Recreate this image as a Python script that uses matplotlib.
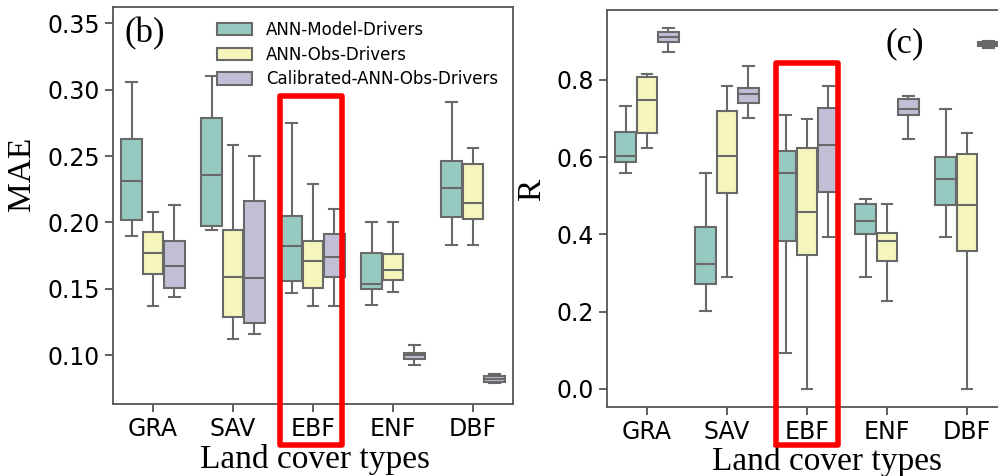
import colorsys
import matplotlib
matplotlib.use('Agg')
import matplotlib.pyplot as plt
import matplotlib.colors as mcolors
from matplotlib.patches import Rectangle, Patch

land_covers = ['GRA', 'SAV', 'EBF', 'ENF', 'DBF']
drivers = ['ANN-Model-Drivers', 'ANN-Obs-Drivers', 'Calibrated-ANN-Obs-Drivers']

# box stats per land cover: (whisker low, q1, median, q3, whisker high)
mae_model = [(0.190, 0.202, 0.231, 0.263, 0.306),
             (0.194, 0.197, 0.236, 0.279, 0.310),
             (0.147, 0.156, 0.182, 0.205, 0.275),
             (0.138, 0.150, 0.154, 0.177, 0.200),
             (0.183, 0.204, 0.226, 0.246, 0.291)]
mae_obs = [(0.137, 0.161, 0.177, 0.193, 0.208),
           (0.112, 0.129, 0.159, 0.194, 0.258),
           (0.137, 0.151, 0.171, 0.186, 0.229),
           (0.148, 0.157, 0.164, 0.176, 0.200),
           (0.183, 0.203, 0.215, 0.244, 0.256)]
mae_cal = [(0.144, 0.151, 0.167, 0.186, 0.213),
           (0.116, 0.124, 0.158, 0.216, 0.250),
           (0.137, 0.159, 0.174, 0.191, 0.210),
           (0.093, 0.097, 0.100, 0.102, 0.108),
           (0.079, 0.080, 0.082, 0.084, 0.086)]

r_model = [(0.560, 0.588, 0.603, 0.665, 0.733),
           (0.202, 0.272, 0.324, 0.418, 0.560),
           (0.094, 0.384, 0.560, 0.616, 0.709),
           (0.291, 0.401, 0.436, 0.479, 0.492),
           (0.394, 0.475, 0.544, 0.601, 0.724)]
r_obs = [(0.623, 0.662, 0.748, 0.808, 0.815),
         (0.291, 0.508, 0.603, 0.720, 0.785),
         (0.000, 0.347, 0.457, 0.625, 0.699),
         (0.228, 0.330, 0.384, 0.403, 0.478),
         (0.000, 0.357, 0.475, 0.608, 0.662)]
r_cal = [(0.871, 0.899, 0.910, 0.925, 0.934),
         (0.702, 0.740, 0.763, 0.780, 0.837),
         (0.394, 0.509, 0.632, 0.727, 0.785),
         (0.647, 0.708, 0.724, 0.751, 0.759),
         (0.883, 0.887, 0.892, 0.897, 0.900)]

base_colors = ['#8dd3c7', '#ffffb3', '#bebada']


def desaturate(color, prop=0.75):
    h, l, s = colorsys.rgb_to_hls(*mcolors.to_rgb(color))
    return colorsys.hls_to_rgb(h, l, s * prop)


colors = [desaturate(c) for c in base_colors]
line_gray = '#696969'
serif = 'Liberation Serif'
width = 0.8 / 3


def draw_boxes(ax, groups):
    for k, (stats, color) in enumerate(zip(groups, colors)):
        bstats = [dict(whislo=s[0], q1=s[1], med=s[2], q3=s[3], whishi=s[4], label='')
                  for s in stats]
        pos = [i + (k - 1) * width for i in range(len(stats))]
        ax.bxp(bstats, positions=pos, widths=width * 0.98, capwidths=width * 0.5,
               patch_artist=True, showfliers=False,
               boxprops=dict(facecolor=color, edgecolor=line_gray, linewidth=1.5),
               medianprops=dict(color=line_gray, linewidth=1.5),
               whiskerprops=dict(color=line_gray, linewidth=1.5),
               capprops=dict(color=line_gray, linewidth=1.5))
    ax.set_xticks(range(len(land_covers)))
    ax.set_xticklabels(land_covers)
    ax.set_xlim(-0.5, len(land_covers) - 0.5)
    ax.tick_params(labelsize=17, length=6, width=1.3, color='#555555')
    for sp in ['top', 'right', 'bottom', 'left']:
        ax.spines[sp].set_color('#555555')
        ax.spines[sp].set_linewidth(1.3)


fig = plt.figure(figsize=(9.98, 4.76), dpi=100)
ax1 = fig.add_axes([0.1132, 0.1513, 0.4008, 0.834])
ax2 = fig.add_axes([0.6082, 0.145, 0.4008, 0.834])

draw_boxes(ax1, [mae_model, mae_obs, mae_cal])
ax1.set_ylim(0.0633, 0.3623)
ax1.set_yticks([0.10, 0.15, 0.20, 0.25, 0.30, 0.35])
ax1.set_ylabel('MAE', fontsize=24, family=serif)
ax1.yaxis.set_label_coords(-0.19, 0.58)
ax1.set_xlabel('Land cover types', fontsize=24, family=serif)
ax1.xaxis.set_label_coords(0.505, -0.10)
ax1.text(0.03, 0.932, '(b)', transform=ax1.transAxes, fontsize=25,
         family=serif, ha='left', va='center')
handles = [Patch(facecolor=c, edgecolor=line_gray, linewidth=1.5) for c in colors]
ax1.legend(handles, drivers, loc='upper left', bbox_to_anchor=(0.26, 0.965),
           frameon=False, fontsize=12, borderpad=0, borderaxespad=0,
           handlelength=2.13, handleheight=0.77, handletextpad=0.83,
           labelspacing=0.4)

draw_boxes(ax2, [r_model, r_obs, r_cal])
ax2.set_ylim(-0.0466, 0.981)
ax2.set_yticks([0.0, 0.2, 0.4, 0.6, 0.8])
ax2.set_ylabel('R', fontsize=24, family=serif)
ax2.yaxis.set_label_coords(-0.15, 0.547)
ax2.set_xlabel('Land cover types', fontsize=24, family=serif)
ax2.xaxis.set_label_coords(0.551, -0.098)
ax2.text(0.745, 0.914, '(c)', transform=ax2.transAxes, fontsize=25,
         family=serif, ha='center', va='center')

# red frames around the EBF group (pixel boxes converted to figure fractions)
W, H = 998, 476
for x0, x1, y0, y1 in [(280, 342, 95.5, 445), (775.5, 838, 63, 445)]:
    fig.add_artist(Rectangle((x0 / W, 1 - y1 / H), (x1 - x0) / W, (y1 - y0) / H,
                             transform=fig.transFigure, fill=False,
                             edgecolor='#ff0000', linewidth=4, joinstyle='round'))

fig.savefig('out.png', dpi=100)
